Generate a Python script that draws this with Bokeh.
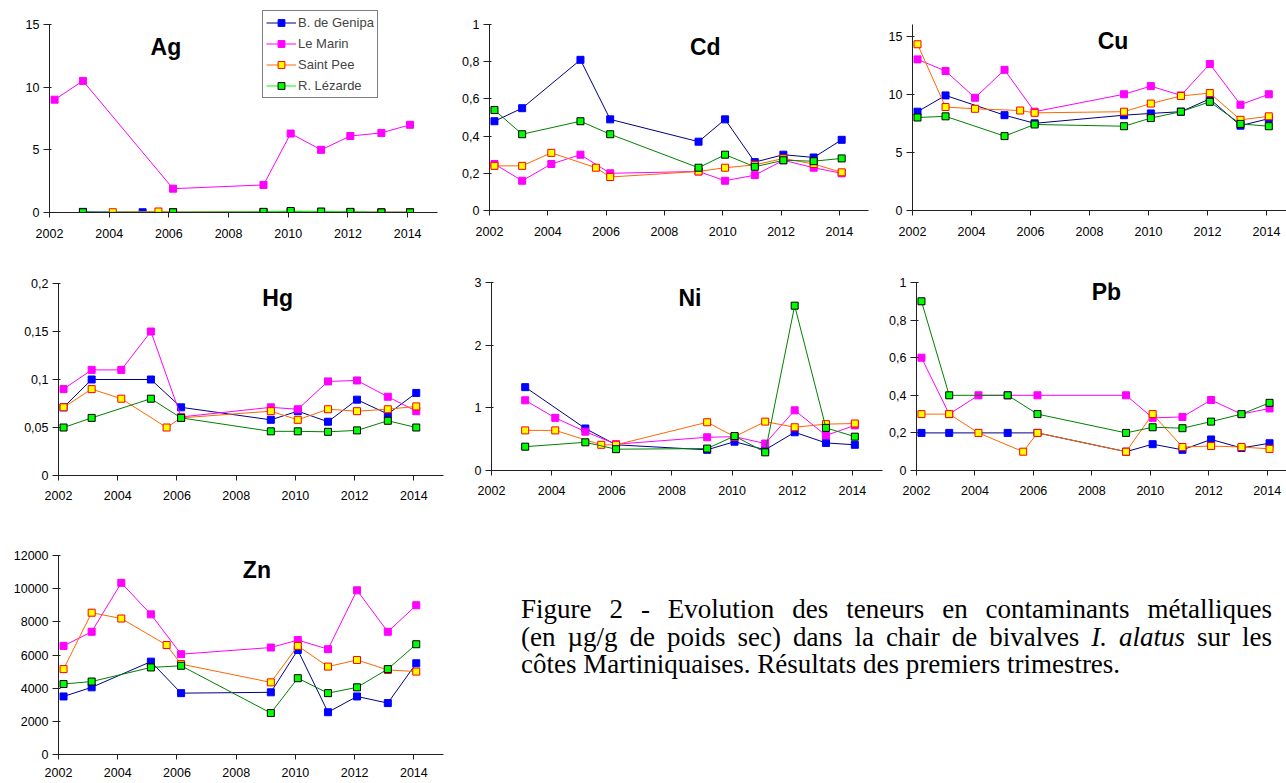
from bokeh.plotting import figure
from bokeh.models import FixedTicker, Label, Legend, LegendItem, Range1d, Div, Spacer
from bokeh.layouts import row, column
from bokeh.embed import file_html
from bokeh.resources import INLINE

# ---------------- data ----------------
DATES = [2002.17, 2003.12, 2004.12, 2005.12, 2005.65, 2006.14,
         2009.17, 2010.08, 2011.10, 2012.08, 2013.12, 2014.08]
SITES = ["B. de Genipa", "Le Marin", "Saint Pee", "R. Lézarde"]

AG_GENIPA = [None, 0.05, None, 0.02, None, 0.02, 0.04, 0.05, 0.05, 0.03, 0.02, 0.02]
AG_MARIN = [9.0, 10.5, None, None, None, 1.9, 2.2, 6.3, 5.0, 6.1, 6.35, 7.0]
AG_STPEE = [None, None, 0.02, None, 0.08, 0.03, 0.03, 0.03, 0.05, 0.02, 0.02, 0.02]
AG_LEZARDE = [None, 0.02, None, None, None, 0.02, 0.05, 0.12, 0.07, 0.05, 0.01, 0.01]

CD_GENIPA = [0.48, 0.55, None, 0.81, None, 0.49, 0.37, 0.49, 0.26, 0.30, 0.285, 0.38]
CD_MARIN = [0.25, 0.16, 0.25, 0.30, None, 0.20, 0.21, 0.16, 0.19, 0.27, 0.23, 0.20]
CD_STPEE = [0.24, 0.24, 0.31, None, 0.23, 0.18, 0.21, 0.23, 0.245, 0.28, 0.25, 0.205]
CD_LEZARDE = [0.54, 0.41, None, 0.48, None, 0.41, 0.23, 0.30, 0.235, 0.27, 0.265, 0.28]

CU_GENIPA = [8.5, 9.9, None, 8.2, None, 7.5, 8.2, 8.35, 8.5, 9.6, 7.3, 7.9]
CU_MARIN = [13.0, 12.0, 9.7, 12.1, None, 8.5, 10.0, 10.7, 9.9, 12.6, 9.1, 10.0]
CU_STPEE = [14.3, 8.9, 8.75, None, 8.6, 8.4, 8.5, 9.2, 9.85, 10.1, 7.8, 8.1]
CU_LEZARDE = [8.0, 8.1, None, 6.4, None, 7.4, 7.25, 7.95, 8.5, 9.35, 7.45, 7.25]

HG_GENIPA = [0.071, 0.10, None, 0.10, None, 0.071, 0.058, 0.067, 0.056, 0.079, 0.064, 0.086]
HG_MARIN = [0.09, 0.11, 0.11, 0.15, None, 0.061, 0.071, 0.069, 0.098, 0.099, 0.082, 0.067]
HG_STPEE = [0.071, 0.09, 0.08, None, 0.05, 0.06, 0.067, 0.058, 0.069, 0.067, 0.069, 0.072]
HG_LEZARDE = [0.05, 0.06, None, 0.08, None, 0.06, 0.046, 0.046, 0.0455, 0.047, 0.057, 0.05]

NI_GENIPA = [None, 1.33, None, 0.67, None, 0.41, 0.33, 0.46, 0.33, 0.61, 0.44, 0.41]
NI_MARIN = [None, 1.12, 0.84, 0.62, None, 0.42, 0.53, 0.54, 0.43, 0.96, 0.56, 0.72]
NI_STPEE = [None, 0.64, 0.64, None, 0.41, 0.41, 0.77, 0.54, 0.78, 0.69, 0.74, 0.75]
NI_LEZARDE = [None, 0.38, None, 0.45, None, 0.34, 0.35, 0.55, 0.29, 2.63, 0.68, 0.54]

PB_GENIPA = [0.20, 0.20, None, 0.20, None, 0.20, 0.10, 0.14, 0.11, 0.165, 0.12, 0.145]
PB_MARIN = [0.60, 0.30, 0.40, 0.40, None, 0.40, 0.40, 0.28, 0.285, 0.375, 0.30, 0.33]
PB_STPEE = [0.30, 0.30, 0.20, None, 0.10, 0.20, 0.10, 0.30, 0.125, 0.13, 0.125, 0.115]
PB_LEZARDE = [0.90, 0.40, None, 0.40, None, 0.30, 0.20, 0.23, 0.225, 0.26, 0.30, 0.36]

ZN_GENIPA = [3500, 4050, None, 5600, None, 3700, 3750, 6300, 2550, 3500, 3100, 5500]
ZN_MARIN = [6550, 7400, 10350, 8450, None, 6050, 6450, 6900, 6350, 9900, 7400, 9000]
ZN_STPEE = [5150, 8550, 8200, None, 6600, 5450, 4350, 6550, 5300, 5700, 5100, 5000]
ZN_LEZARDE = [4250, 4400, None, 5250, None, 5350, 2500, 4600, 3700, 4050, 5150, 6650]

YEAR_TICKS = [2002, 2004, 2006, 2008, 2010, 2012, 2014]
YEAR_LABELS = ["2002", "2004", "2006", "2008", "2010", "2012", "2014"]

AG_TICKS = [0, 5, 10, 15]
AG_LABELS = ["0", "5", "10", "15"]
CD_TICKS = [0, 0.2, 0.4, 0.6, 0.8, 1]
CD_LABELS = ["0", "0,2", "0,4", "0,6", "0,8", "1"]
CU_TICKS = [0, 5, 10, 15]
CU_LABELS = ["0", "5", "10", "15"]
HG_TICKS = [0, 0.05, 0.1, 0.15, 0.2]
HG_LABELS = ["0", "0,05", "0,1", "0,15", "0,2"]
NI_TICKS = [0, 1, 2, 3]
NI_LABELS = ["0", "1", "2", "3"]
PB_TICKS = [0, 0.2, 0.4, 0.6, 0.8, 1]
PB_LABELS = ["0", "0,2", "0,4", "0,6", "0,8", "1"]
ZN_TICKS = [0, 2000, 4000, 6000, 8000, 10000, 12000]
ZN_LABELS = ["0", "2000", "4000", "6000", "8000", "10000", "12000"]

CAPTION_LINES = [
    "Figure 2 - Evolution des teneurs en contaminants métalliques",
    "(en µg/g de poids sec) dans la chair de bivalves <i>I. alatus</i> sur les",
    "côtes Martiniquaises. Résultats des premiers trimestres.",
]

# ---------------- styles ----------------
LINE_COLORS = ["#000080", "#FF00FF", "#FF6600", "#008000"]
FILL_COLORS = ["#0000FF", "#FF00FF", "#FFFF00", "#00FF00"]
EDGE_COLORS = ["#0000FF", "#FF00FF", "#FF0000", "#000000"]
FONT = "Liberation Sans"


def panel(title, series, yticks, ylabels, ymax, xmax, width, height,
          bl, br, bt, bb, tx, ty, standoff=11, lez_line="#008000",
          legend=None, top_extra_px=0):
    """top_extra_px: frame extends this many px above the top tick (axis bounded)."""
    frame_h = height - bt - bb
    axis_h = frame_h - top_extra_px
    yend = ymax * frame_h / axis_h
    p = figure(width=width, height=height,
               x_range=Range1d(2002, xmax), y_range=Range1d(0, yend),
               output_backend="svg", toolbar_location=None,
               min_border_left=bl, min_border_right=br,
               min_border_top=bt, min_border_bottom=bb,
               frame_align=False)
    p.outline_line_color = None
    p.grid.visible = False
    p.background_fill_color = "white"
    p.border_fill_color = "white"

    p.xaxis.ticker = FixedTicker(ticks=YEAR_TICKS)
    p.xaxis.major_label_overrides = dict(zip(YEAR_TICKS, YEAR_LABELS))
    p.yaxis.ticker = FixedTicker(ticks=yticks)
    p.yaxis.major_label_overrides = dict(zip(yticks, ylabels))
    p.yaxis.bounds = (0, ymax)
    for ax in (p.xaxis, p.yaxis):
        ax.axis_line_color = "#202020"
        ax.major_tick_line_color = "#202020"
        ax.minor_tick_line_color = None
        ax.major_label_text_font = FONT
        ax.major_label_text_font_size = "12.5px"
        ax.major_label_text_color = "black"
    p.xaxis.major_tick_in = 0
    p.xaxis.major_tick_out = 5
    p.xaxis.major_label_standoff = standoff
    p.yaxis.major_tick_in = 2
    p.yaxis.major_tick_out = 6
    p.yaxis.major_label_standoff = 4

    items = []
    for i, vals in enumerate(series):
        xs = [d for d, v in zip(DATES, vals) if v is not None]
        ys = [v for v in vals if v is not None]
        lc = LINE_COLORS[i] if i < 3 else lez_line
        lr = p.line(xs, ys, line_color=lc, line_width=1)
        sr = p.scatter(xs, ys, marker="square", size=7,
                       fill_color=FILL_COLORS[i], line_color=EDGE_COLORS[i],
                       line_width=1)
        items.append(LegendItem(label=SITES[i], renderers=[lr, sr]))

    p.add_layout(Label(x=tx, y=ty, text=title, text_font=FONT,
                       text_font_size="23px", text_font_style="bold",
                       text_align="center", text_baseline="middle",
                       text_color="black"))

    if legend is not None:
        leg = Legend(items=items, location=legend,
                     border_line_color="black", border_line_width=1,
                     background_fill_color="white", background_fill_alpha=1.0,
                     padding=3, spacing=4, margin=0,
                     glyph_width=30, glyph_height=17, label_height=17,
                     label_standoff=2, label_text_font=FONT,
                     label_text_font_size="13px")
        p.add_layout(leg)
    return p


# row 1 (y 0..258)
ag = panel("Ag", [AG_GENIPA, AG_MARIN, AG_STPEE, AG_LEZARDE], AG_TICKS, AG_LABELS,
           15, 2015, 445, 258, 49, 8, 10, 46, 2005.9, 13.2,
           lez_line="#00FF00", legend=(213, 114), top_extra_px=14)
cd = panel("Cd", [CD_GENIPA, CD_MARIN, CD_STPEE, CD_LEZARDE], CD_TICKS, CD_LABELS,
           1, 2015, 425, 258, 44, 2, 24, 48, 2009.4, 0.88)
cu = panel("Cu", [CU_GENIPA, CU_MARIN, CU_STPEE, CU_LEZARDE], CU_TICKS, CU_LABELS,
           16, 2014.68, 416, 258, 42, 0, 24, 48, 2008.8, 14.6)

# row 2 (y 258..520)
hg = panel("Hg", [HG_GENIPA, HG_MARIN, HG_STPEE, HG_LEZARDE], HG_TICKS, HG_LABELS,
           0.2, 2015, 450, 262, 58, 7, 25, 45, 2009.4, 0.185, standoff=10)
ni = panel("Ni", [NI_GENIPA, NI_MARIN, NI_STPEE, NI_LEZARDE], NI_TICKS, NI_LABELS,
           3, 2015, 434, 262, 41, 2, 24, 50, 2008.6, 2.76, standoff=10)
pb = panel("Pb", [PB_GENIPA, PB_MARIN, PB_STPEE, PB_LEZARDE], PB_TICKS, PB_LABELS,
           1, 2014.66, 402, 262, 32, 0, 24, 50, 2008.5, 0.947, standoff=10)

# row 3 (y 520..782)
zn = panel("Zn", [ZN_GENIPA, ZN_MARIN, ZN_STPEE, ZN_LEZARDE], ZN_TICKS, ZN_LABELS,
           12000, 2015, 460, 262, 58, 17, 35, 28, 2008.7, 11100, standoff=8)

line_divs = []
for i, txt in enumerate(CAPTION_LINES):
    last = "left" if i == len(CAPTION_LINES) - 1 else "justify"
    line_divs.append(
        f'<div style="text-align: justify; text-align-last: {last}; '
        f'white-space: nowrap;">{txt}</div>')
caption = Div(
    text=('<div style="font-family: \'Liberation Serif\', \'Times New Roman\', serif; '
          'font-size: 27px; line-height: 27.5px; color: black; padding-top: 71px; '
          'width: 751px;">' + "".join(line_divs) + '</div>'),
    width=751, height=262)

layout = column(
    row(ag, cd, cu),
    row(hg, ni, pb),
    row(zn, Spacer(width=56, height=262), caption),
)

open("out.html", "w").write(file_html(layout, INLINE))
